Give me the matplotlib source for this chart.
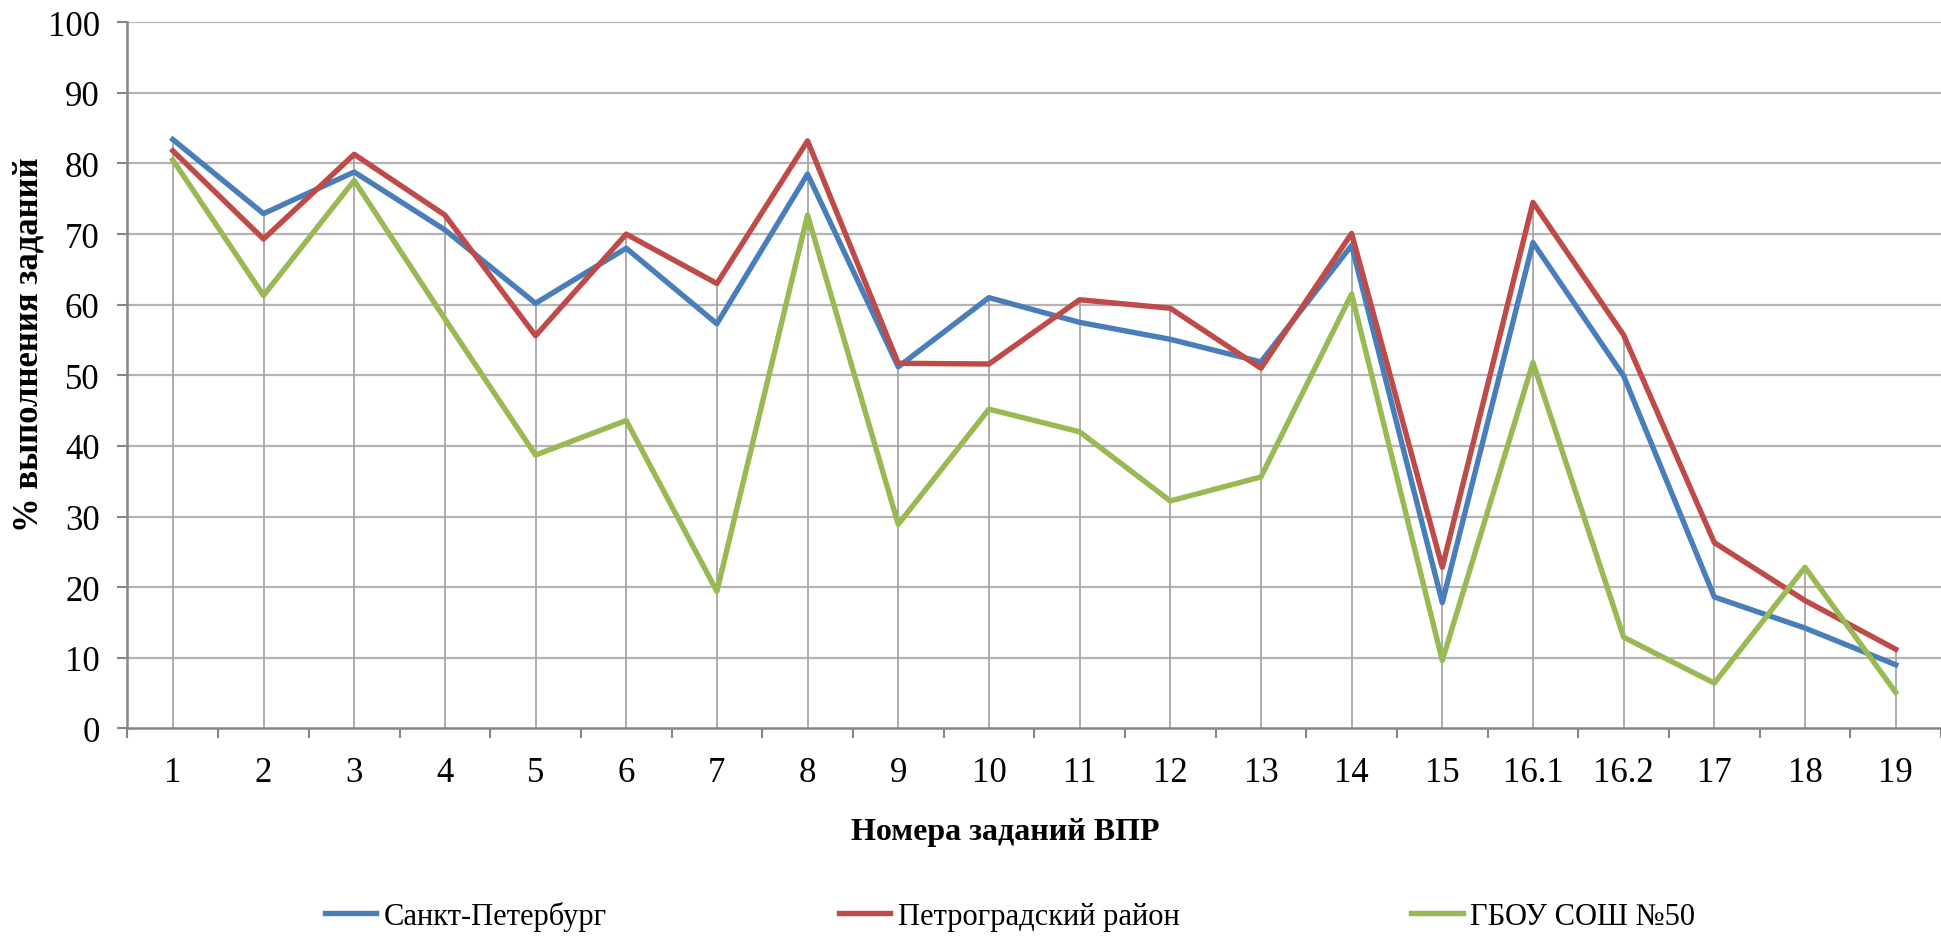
import matplotlib
matplotlib.use("Agg")
import matplotlib.pyplot as plt
import numpy as np

plt.rcParams['font.family'] = ['Liberation Serif', 'DejaVu Serif']

tasks = ["1", "2", "3", "4", "5", "6", "7", "8", "9", "10", "11", "12", "13",
         "14", "15", "16.1", "16.2", "17", "18", "19"]

spb = [83.4, 72.9, 78.8, 70.6, 60.2, 68.0, 57.3, 78.5, 51.2, 61.0, 57.5, 55.1,
       51.9, 68.4, 17.8, 68.8, 49.9, 18.6, 14.2, 9.0]
petrograd = [81.8, 69.3, 81.3, 72.7, 55.6, 70.0, 63.0, 83.2, 51.7, 51.6, 60.7,
             59.5, 51.0, 70.1, 22.8, 74.5, 55.7, 26.3, 18.1, 11.2]
school = [80.5, 61.3, 77.6, 58.0, 38.7, 43.6, 19.4, 72.7, 28.9, 45.2, 42.0,
          32.2, 35.6, 61.5, 9.6, 51.8, 12.9, 6.4, 22.8, 5.1]

series_names = ["Санкт-Петербург", "Петроградский район", "ГБОУ СОШ №50"]
colors = ["#4A7EBB", "#BE4B48", "#98B954"]

fig = plt.figure(figsize=(19.41, 9.37), dpi=100)
ax = fig.add_axes([127.5 / 1941, 1 - 729.3 / 937, 1 - 127.5 / 1941, (729.3 - 23.3) / 937])

x = np.arange(len(tasks))

# горизонтальная сетка
for v in range(10, 101, 10):
    ax.axhline(v, color="#B4B4B4", linewidth=1.6, zorder=1)

# линии проекции (от максимума до оси)
tops = np.max([spb, petrograd, school], axis=0)
ax.vlines(x, 0, tops, color="#A6A6A6", linewidth=1.3, zorder=1)

for vals, name, c in zip([spb, petrograd, school], series_names, colors):
    ax.plot(x, vals, color=c, linewidth=3.9, label=name, zorder=3)

ax.set_xlim(-0.5, len(tasks) - 0.5)
ax.set_ylim(0, 100)
ax.set_yticks(range(0, 101, 10))
ax.set_xticks(x)
ax.set_xticklabels(tasks)
ax.set_xticks(np.arange(-0.5, len(tasks), 1), minor=True)

ax.tick_params(axis="y", labelsize=25, length=7, width=1.5, color="#868686", pad=13)
ax.tick_params(axis="x", which="major", labelsize=25, length=0, pad=20)
ax.tick_params(axis="x", which="minor", length=7, width=1.5, color="#868686")

for side in ["top", "right"]:
    ax.spines[side].set_visible(False)
for side in ["left", "bottom"]:
    ax.spines[side].set_color("#868686")
    ax.spines[side].set_linewidth(1.8)

fig.text(29 / 1941, 1 - 345 / 937, "% выполнения заданий", rotation=90,
         ha="center", va="center", fontsize=25, fontweight="bold")
fig.text(1005 / 1941, 1 - 833 / 937, "Номера заданий ВПР",
         ha="center", va="center", fontsize=23, fontweight="bold")

fig.legend(loc="center", bbox_to_anchor=(1010 / 1941, 1 - 917 / 937), ncol=3,
           frameon=False, fontsize=22, handlelength=1.67, handletextpad=0.25,
           columnspacing=7.6)

fig.savefig("out.png", dpi=100)
